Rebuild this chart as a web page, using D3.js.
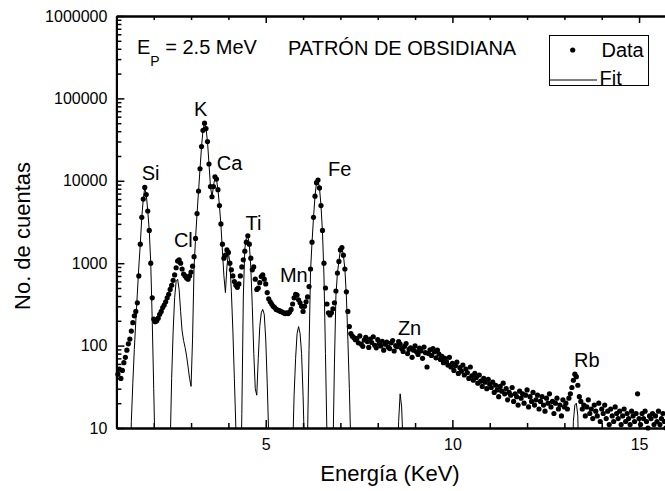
<!DOCTYPE html>
<html>
<head>
<meta charset="utf-8">
<script src="https://cdn.jsdelivr.net/npm/d3@7/dist/d3.min.js"></script>
<style>
	body { margin: 0; background: #fff; }
	svg text { font-family: "Liberation Sans", Arial, sans-serif; fill: #000; }
</style>
</head>
<body>
<div id="chart"></div>
<script>

///////////////////////////////////////////////////////////////////////////
//////////////////////////////// The data /////////////////////////////////
///////////////////////////////////////////////////////////////////////////

//Channel calibration of the spectrum (keV)
var energyStart = 1.04,
	energyStep = 0.04;

//Measured counts per channel
var dataCounts = [
	45, 52, 40, 50, 62, 72, 88, 105, 120, 150,
	190, 230, 260, 330, 700, 1700, 3600, 6000, 8300, 6800,
	4300, 2500, 1000, 380, 210, 195, 200, 215, 240, 260,
	290, 310, 340, 380, 420, 480, 540, 620, 720, 880,
	1060, 1100, 1000, 850, 740, 700, 660, 640, 700, 780,
	920, 1200, 2000, 4000, 7500, 14000, 26000, 41000, 50000, 43000,
	30000, 16000, 8500, 6400, 8500, 11200, 10500, 7800, 5000, 3000,
	1700, 1150, 1250, 1450, 1350, 1000, 830, 700, 600, 540,
	510, 560, 700, 900, 1100, 1400, 1800, 2150, 1700, 1150,
	830, 900, 640, 480, 500, 580, 690, 720, 640, 560,
	440, 370, 340, 320, 300, 290, 275, 270, 265, 260,
	255, 250, 245, 250, 245, 255, 275, 320, 380, 420,
	410, 360, 330, 300, 260, 300, 340, 390, 520, 850,
	1800, 3600, 6500, 9500, 10200, 8200, 5000, 2500, 1000, 500,
	320, 250, 235, 250, 280, 330, 460, 760, 1050, 1450,
	1550, 1250, 850, 450, 260, 170, 140, 130, 125, 118,
	122, 108, 131, 104, 98, 117, 126, 112, 95, 120,
	109, 128, 101, 94, 118, 106, 99, 113, 88, 104,
	110, 96, 92, 108, 115, 86, 100, 97, 112, 104,
	92, 85, 98, 106, 80, 90, 94, 72, 88, 99,
	84, 78, 93, 86, 70, 96, 82, 55, 80, 89,
	76, 92, 84, 71, 88, 79, 68, 74, 62, 70,
	64, 58, 72, 55, 61, 50, 57, 63, 46, 54,
	49, 58, 44, 52, 47, 40, 55, 43, 38, 46,
	41, 35, 44, 37, 32, 40, 36, 30, 39, 34,
	31, 36, 27, 33, 29, 24, 32, 28, 35, 26,
	30, 22, 27, 25, 31, 21, 26, 24, 19, 28,
	23, 26, 20, 25, 29, 18, 24, 21, 27, 19,
	22, 25, 17, 21, 24, 19, 16, 23, 20, 26,
	18, 21, 15, 20, 23, 17, 19, 14, 22, 18,
	20, 17, 23, 26, 31, 38, 45, 42, 33, 24,
	21, 17, 19, 14, 18, 22, 15, 17, 13, 19,
	16, 14, 20, 12, 17, 15, 19, 13, 16, 11,
	17, 14, 12, 18, 15, 13, 16, 11, 14, 17,
	12, 15, 13, 11, 16, 14, 12, 15, 26, 13,
	11, 15, 13, 16, 12, 10, 14, 13, 15, 11,
	14, 12, 16, 11, 13, 15, 12, 10, 14, 13,
	12, 15, 11, 13, 12
];

//Fitted counts per channel (1 = below the axis)
var fitCounts = [
	1, 1, 1, 1, 1, 1, 1, 1, 1, 12,
	35, 90, 200, 420, 900, 1700, 3600, 6000, 8300, 6800,
	4300, 2500, 1000, 200, 30, 4, 1, 1, 1, 1,
	1, 1, 1, 1, 1, 6, 40, 150, 380, 600,
	640, 480, 260, 150, 115, 95, 75, 55, 40, 32,
	120, 900, 2000, 4000, 7500, 14000, 26000, 41000, 50000, 43000,
	30000, 16000, 8500, 6400, 8500, 11200, 10500, 7800, 5000, 2900,
	1400, 700, 440, 900, 1350, 1000, 450, 150, 40, 10,
	1, 1, 1, 15, 400, 1500, 2000, 2150, 1700, 900,
	300, 80, 30, 25, 70, 170, 250, 275, 240, 120,
	35, 8, 1, 1, 1, 1, 1, 1, 1, 1,
	1, 1, 1, 1, 1, 1, 1, 5, 25, 70,
	140, 170, 140, 80, 25, 5, 1, 8, 90, 800,
	1800, 3600, 6500, 9500, 10200, 8200, 5000, 2400, 700, 80,
	8, 1, 1, 1, 5, 60, 400, 760, 1050, 1450,
	1550, 1250, 850, 400, 120, 30, 6, 1, 1, 1,
	1, 1, 1, 1, 1, 1, 1, 1, 1, 1,
	1, 1, 1, 1, 1, 1, 1, 1, 1, 1,
	1, 1, 1, 1, 1, 1, 1, 3, 12, 26,
	18, 6, 1, 1, 1, 1, 1, 1, 1, 1,
	1, 1, 1, 1, 1, 1, 1, 1, 1, 1,
	1, 1, 1, 1, 1, 1, 1, 1, 1, 1,
	1, 1, 1, 1, 1, 1, 1, 1, 1, 1,
	1, 1, 1, 1, 1, 1, 1, 1, 1, 1,
	1, 1, 1, 1, 1, 1, 1, 1, 1, 1,
	1, 1, 1, 1, 1, 1, 1, 1, 1, 1,
	1, 1, 1, 1, 1, 1, 1, 1, 1, 1,
	1, 1, 1, 1, 1, 1, 1, 1, 1, 1,
	1, 1, 1, 1, 1, 1, 1, 1, 1, 1,
	1, 1, 1, 1, 1, 1, 1, 1, 1, 1,
	1, 1, 1, 1, 1, 12, 19, 20, 14, 1,
	1, 1, 1, 1, 1, 1, 1, 1, 1, 1,
	1, 1, 1, 1, 1, 1, 1, 1, 1, 1,
	1, 1, 1, 1, 1, 1, 1, 1, 1, 1,
	1, 1, 1, 1, 1, 1, 1, 1, 1, 1,
	1, 1, 1, 1, 1, 1, 1, 1, 1, 1,
	1, 1, 1, 1, 1, 1, 1, 1, 1, 1,
	1, 1, 1, 1, 1
];

//Element labels, anchored in data coordinates (keV, counts)
var peakNames = ["Si", "Cl", "K", "Ca", "Ti", "Mn", "Fe", "Zn", "Rb"];
var peakLabelEnergy = [1.68, 2.54, 3.08, 3.69, 4.46, 5.38, 6.67, 8.54, 13.26];
var peakLabelCounts = [10200, 1570, 61000, 13500, 2530, 590, 11400, 135, 55];

//Axis ticks
var xMajorTicks = [5, 10, 15];
var xMinorTicks = [2, 3, 4, 6, 7, 8, 9, 11, 12, 13, 14, 16];
var yMajorTicks = [10, 100, 1000, 10000, 100000, 1000000];

///////////////////////////////////////////////////////////////////////////
//////////////////// Set up and initiate svg containers ///////////////////
///////////////////////////////////////////////////////////////////////////

var width = 665,
	height = 491;

var plot = { left: 116.4, right: 676.4, top: 16, bottom: 428 };

var svg = d3.select("#chart")
	.append("svg")
	.attr("width", width)
	.attr("height", height);

var x = d3.scaleLinear().domain([1, 16]).range([plot.left, plot.right]);
var y = d3.scaleLog().domain([10, 1000000]).range([plot.bottom, plot.top]);

var yMinorTicks = [];
yMajorTicks.slice(0, -1).forEach(function(d) {
	for (var k = 2; k < 10; k++) yMinorTicks.push(d * k);
});

var spectrum = dataCounts.map(function(d, i) {
	return { e: energyStart + i * energyStep, data: d, fit: fitCounts[i] };
});

svg.append("defs").append("clipPath")
	.attr("id", "plotClip")
	.append("rect")
	.attr("x", plot.left)
	.attr("y", plot.top)
	.attr("width", plot.right - plot.left)
	.attr("height", plot.bottom - plot.top);

///////////////////////////////////////////////////////////////////////////
///////////////////////////////// Axes ////////////////////////////////////
///////////////////////////////////////////////////////////////////////////

function styleAxis(g, domainWidth) {
	g.select(".domain").attr("stroke", "#000").attr("stroke-width", domainWidth);
	g.selectAll(".tick line").attr("stroke", "#000").attr("stroke-width", 1.5);
	g.selectAll(".tick text")
		.style("font-size", "16px")
		.style("font-family", "'Liberation Sans', Arial, sans-serif")
		.attr("fill", "#000");
}

//Bottom
svg.append("g")
	.attr("transform", "translate(0," + plot.bottom + ")")
	.call(d3.axisBottom(x).tickValues(xMinorTicks).tickSize(-5).tickSizeOuter(0).tickFormat(""))
	.call(styleAxis, 2);
svg.append("g")
	.attr("transform", "translate(0," + plot.bottom + ")")
	.call(d3.axisBottom(x).tickValues(xMajorTicks).tickSize(-8).tickSizeOuter(0).tickPadding(10.5).tickFormat(d3.format("d")))
	.call(styleAxis, 2);

//Top
svg.append("g")
	.attr("transform", "translate(0," + plot.top + ")")
	.call(d3.axisTop(x).tickValues(xMinorTicks).tickSize(-4).tickSizeOuter(0).tickFormat(""))
	.call(styleAxis, 2);
svg.append("g")
	.attr("transform", "translate(0," + plot.top + ")")
	.call(d3.axisTop(x).tickValues(xMajorTicks).tickSize(-7).tickSizeOuter(0).tickFormat(""))
	.call(styleAxis, 2);

//Left
svg.append("g")
	.attr("transform", "translate(" + plot.left + ",0)")
	.call(d3.axisLeft(y).tickValues(yMinorTicks).tickSize(-5).tickSizeOuter(0).tickFormat(""))
	.call(styleAxis, 2);
svg.append("g")
	.attr("transform", "translate(" + plot.left + ",0)")
	.call(d3.axisLeft(y).tickValues(yMajorTicks).tickSize(-8).tickSizeOuter(0).tickPadding(9).tickFormat(d3.format("d")))
	.call(styleAxis, 2);

//Axis titles
svg.append("text")
	.attr("x", 390)
	.attr("y", 481)
	.attr("text-anchor", "middle")
	.style("font-size", "22px")
	.text("Energía (KeV)");

svg.append("text")
	.attr("transform", "translate(30,236) rotate(-90)")
	.attr("text-anchor", "middle")
	.style("font-size", "22px")
	.text("No. de cuentas");

///////////////////////////////////////////////////////////////////////////
////////////////////////////// Fit and data ///////////////////////////////
///////////////////////////////////////////////////////////////////////////

var fitLine = d3.line()
	.x(function(d) { return x(d.e); })
	.y(function(d) { return y(d.fit); });

svg.append("path")
	.datum(spectrum)
	.attr("clip-path", "url(#plotClip)")
	.attr("d", fitLine)
	.style("fill", "none")
	.style("stroke", "#000")
	.style("stroke-width", 1);

svg.append("g")
	.selectAll(".dot")
	.data(spectrum.filter(function(d) { return d.data >= 10; }))
	.enter().append("circle")
	.attr("class", "dot")
	.attr("cx", function(d) { return x(d.e); })
	.attr("cy", function(d) { return y(d.data); })
	.attr("r", 2.6)
	.style("fill", "#000");

///////////////////////////////////////////////////////////////////////////
////////////////////////////// Annotations ////////////////////////////////
///////////////////////////////////////////////////////////////////////////

svg.append("g")
	.selectAll(".peak-label")
	.data(peakNames)
	.enter().append("text")
	.attr("class", "peak-label")
	.attr("x", function(d, i) { return x(peakLabelEnergy[i]); })
	.attr("y", function(d, i) { return y(peakLabelCounts[i]); })
	.style("font-size", "20px")
	.text(function(d) { return d; });

var beam = svg.append("text")
	.attr("x", 137)
	.attr("y", 54)
	.style("font-size", "20px");
beam.append("tspan").text("E");
beam.append("tspan").attr("dy", 12).style("font-size", "14px").text("P");
beam.append("tspan").attr("dy", -12).text(" = 2.5 MeV");

svg.append("text")
	.attr("x", 288)
	.attr("y", 55)
	.style("font-size", "20px")
	.text("PATRÓN DE OBSIDIANA");

//Legend
var legend = svg.append("g");
legend.append("rect")
	.attr("x", 549.5)
	.attr("y", 35.5)
	.attr("width", 99)
	.attr("height", 50)
	.style("fill", "#fff")
	.style("stroke", "#000")
	.style("stroke-width", 1);
legend.append("circle")
	.attr("cx", 572.7)
	.attr("cy", 50)
	.attr("r", 2.6)
	.style("fill", "#000");
legend.append("text")
	.attr("x", 601.5)
	.attr("y", 57)
	.style("font-size", "20px")
	.text("Data");
legend.append("line")
	.attr("x1", 549.5)
	.attr("x2", 597)
	.attr("y1", 80)
	.attr("y2", 80)
	.style("stroke", "#000")
	.style("stroke-width", 1);
legend.append("text")
	.attr("x", 599.5)
	.attr("y", 85)
	.style("font-size", "20px")
	.text("Fit");

</script>
</body>
</html>
